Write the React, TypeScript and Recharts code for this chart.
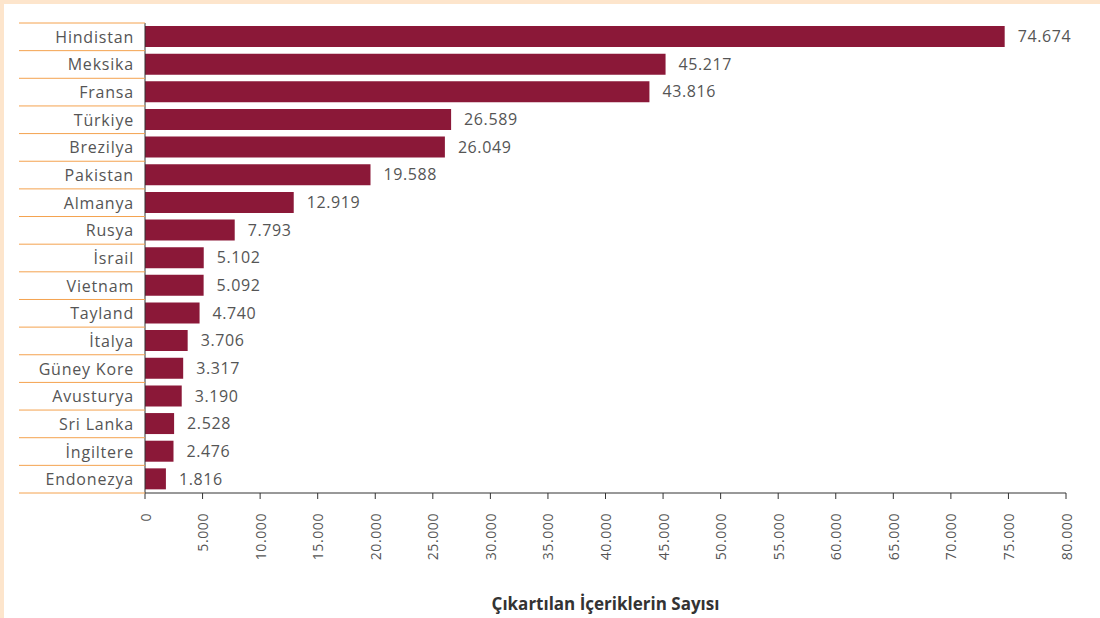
import React from 'react';
import { BarChart, Bar, XAxis, YAxis, LabelList } from 'recharts';

const countries = [
  'Hindistan', 'Meksika', 'Fransa', 'Türkiye', 'Brezilya', 'Pakistan', 'Almanya', 'Rusya',
  'İsrail', 'Vietnam', 'Tayland', 'İtalya', 'Güney Kore', 'Avusturya', 'Sri Lanka', 'İngiltere', 'Endonezya',
];
const removedCounts = [
  74674, 45217, 43816, 26589, 26049, 19588, 12919, 7793,
  5102, 5092, 4740, 3706, 3317, 3190, 2528, 2476, 1816,
];
const xTicks = [0, 5000, 10000, 15000, 20000, 25000, 30000, 35000, 40000, 45000, 50000, 55000, 60000, 65000, 70000, 75000, 80000];
const axisTitle = 'Çıkartılan İçeriklerin Sayısı';

const data = countries.map((name, i) => ({ name, value: removedCounts[i] }));

const font = '"Open Sans", "DejaVu Sans", sans-serif';
const textColor = '#555';
const CHART_H = 614;
const MARGIN_TOP = 19;
const X_AXIS_H = 125;
const Y_AXIS_W = 126;
const LABEL_GAP = 11;
const band = (CHART_H - MARGIN_TOP - X_AXIS_H) / countries.length;

// 74674 -> "74.674"
const fmt = (v: number) => String(v).replace(/\B(?=(\d{3})+(?!\d))/g, '.');

function CountryTick(props: any) {
  const { x, y, payload, index } = props;
  const axisX = x + LABEL_GAP;
  const x0 = axisX - Y_AXIS_W;
  const isLast = index === countries.length - 1;
  return (
    <g>
      <line x1={x0} x2={axisX} y1={y - band / 2} y2={y - band / 2} stroke="#f4a24f" strokeWidth={1} />
      {isLast && <line x1={x0} x2={axisX} y1={y + band / 2} y2={y + band / 2} stroke="#f4a24f" strokeWidth={1} />}
      <text
        x={x}
        y={y}
        textAnchor="end"
        dominantBaseline="central"
        fill={textColor}
        fontSize={16}
        letterSpacing={0.8}
        fontFamily={font}
      >
        {payload.value}
      </text>
    </g>
  );
}

function ValueTick(props: any) {
  const { x, y, payload } = props;
  return (
    <text
      x={x}
      y={y}
      transform={`rotate(-90 ${x} ${y})`}
      textAnchor="end"
      dominantBaseline="central"
      fill={textColor}
      fontSize={14}
      letterSpacing={0.6}
      fontFamily={font}
    >
      {fmt(payload.value)}
    </text>
  );
}

export default function App() {
  return (
    <div style={{ position: 'fixed', top: 0, left: 0, width: 1100, height: 618, background: '#fde5cc' }}>
      <div style={{ position: 'absolute', top: 4, left: 4, width: 1096, height: 614, background: '#fff' }}>
        <BarChart
          width={1096}
          height={CHART_H}
          data={data}
          layout="vertical"
          margin={{ top: MARGIN_TOP, right: 34, left: 15, bottom: 0 }}
          barCategoryGap={4}
        >
          <YAxis
            type="category"
            dataKey="name"
            width={Y_AXIS_W}
            axisLine={{ stroke: '#333', strokeWidth: 1 }}
            tickLine={false}
            tickSize={LABEL_GAP}
            tickMargin={0}
            interval={0}
            tick={<CountryTick />}
          />
          <XAxis
            type="number"
            domain={[0, 80000]}
            ticks={xTicks}
            interval={0}
            height={X_AXIS_H}
            axisLine={{ stroke: '#333', strokeWidth: 1 }}
            tickLine={{ stroke: '#333', strokeWidth: 1 }}
            tickSize={6}
            tickMargin={14}
            tick={<ValueTick />}
            label={{
              value: axisTitle,
              position: 'insideBottom',
              offset: 8,
              fill: '#333',
              fontSize: 17,
              fontWeight: 700,
              fontFamily: font,
            }}
          />
          <Bar dataKey="value" fill="#8b1838" barSize={21} isAnimationActive={false}>
            <LabelList
              dataKey="value"
              position="right"
              offset={13}
              formatter={(v: any) => fmt(Number(v))}
              fill={textColor}
              fontSize={16}
              letterSpacing={0.6}
              fontFamily={font}
            />
          </Bar>
        </BarChart>
      </div>
    </div>
  );
}
